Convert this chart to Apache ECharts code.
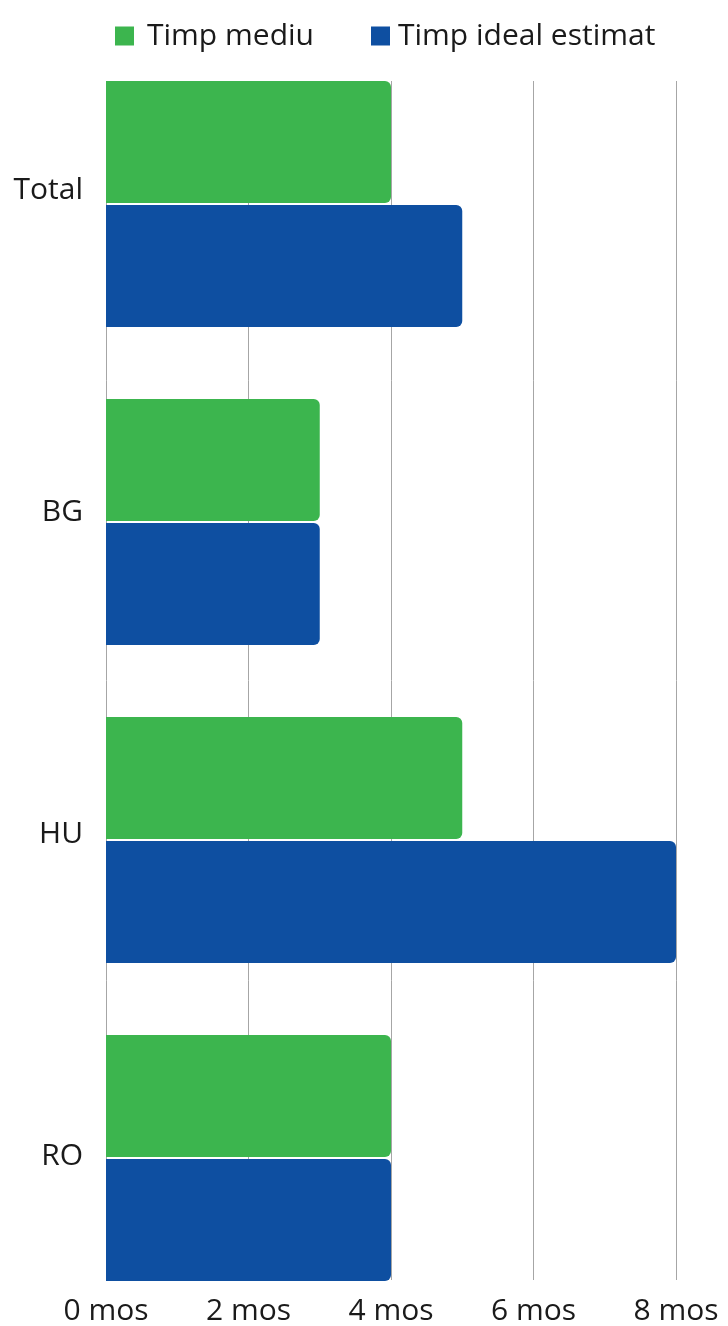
<!DOCTYPE html>
<html>
<head>
<meta charset="utf-8">
<script src="https://cdn.jsdelivr.net/npm/echarts@6/dist/echarts.min.js"></script>
<style>html,body{margin:0;padding:0;background:#fff}#c{width:728px;height:1326px}</style>
</head>
<body>
<div id="c"></div>
<script>
const categories = ['Total', 'BG', 'HU', 'RO'];
const seriesNames = ['Timp mediu', 'Timp ideal estimat'];
const timpMediu = [4, 3, 5, 4];
const timpIdeal = [5, 3, 8, 4];
const xTicks = [0, 2, 4, 6, 8];
const unit = 'mos';

const FONT = '"Open Sans", "Noto Sans", sans-serif';
const GREEN = '#3cb54e';
const BLUE = '#0e4fa1';

const chart = echarts.init(document.getElementById('c'), null, {renderer: 'canvas'});
chart.setOption({
  backgroundColor: '#ffffff',
  animation: false,
  textStyle: {fontFamily: FONT},
  legend: [
    {
      data: [seriesNames[0]], left: 115, top: 21, padding: 0,
      itemWidth: 19, itemHeight: 19, icon: 'rect',
      textStyle: {fontSize: 30, color: '#1a1a1a', fontFamily: FONT, padding: [0, 0, 0, 8]}
    },
    {
      data: [seriesNames[1]], left: 371, top: 21, padding: 0,
      itemWidth: 19, itemHeight: 19, icon: 'rect',
      textStyle: {fontSize: 30, color: '#1a1a1a', fontFamily: FONT, padding: [0, 0, 0, 3]}
    }
  ],
  grid: [
    {left: 106, right: 52, top: 45, bottom: 9},
    {left: 106, right: 52, top: 81, bottom: 45},
    {left: 106, right: 52, top: 29, bottom: 9}
  ],
  xAxis: [
    {gridIndex: 0, type: 'value', min: xTicks[0], max: xTicks[xTicks.length - 1], show: false},
    {
      gridIndex: 1, type: 'value', min: xTicks[0], max: xTicks[xTicks.length - 1], interval: 2,
      axisLine: {show: false}, axisTick: {show: false},
      splitLine: {show: true, lineStyle: {color: '#a6a6a6', width: 1}},
      axisLabel: {
        fontSize: 30, color: '#1a1a1a', margin: 16, fontFamily: FONT,
        formatter: v => v + ' ' + unit
      }
    },
    {gridIndex: 2, type: 'value', min: 0, max: 8, show: false}
  ],
  yAxis: [
    {gridIndex: 0, type: 'category', data: categories, inverse: true, show: false},
    {gridIndex: 1, type: 'category', data: categories, inverse: true, show: false},
    {
      gridIndex: 2, type: 'category', data: categories, inverse: true,
      axisLine: {show: false}, axisTick: {show: false}, splitLine: {show: false},
      axisLabel: {fontSize: 30, color: '#1a1a1a', margin: 23, fontFamily: FONT}
    }
  ],
  series: [
    {
      name: seriesNames[0], type: 'bar', xAxisIndex: 0, yAxisIndex: 0,
      data: timpMediu, barWidth: 122, barGap: '1.5%',
      itemStyle: {color: GREEN, borderRadius: [0, 6, 6, 0]}
    },
    {
      name: seriesNames[1], type: 'bar', xAxisIndex: 0, yAxisIndex: 0,
      data: timpIdeal, barWidth: 122, barGap: '1.5%',
      itemStyle: {color: BLUE, borderRadius: [0, 6, 6, 0]}
    }
  ]
});
</script>
</body>
</html>
